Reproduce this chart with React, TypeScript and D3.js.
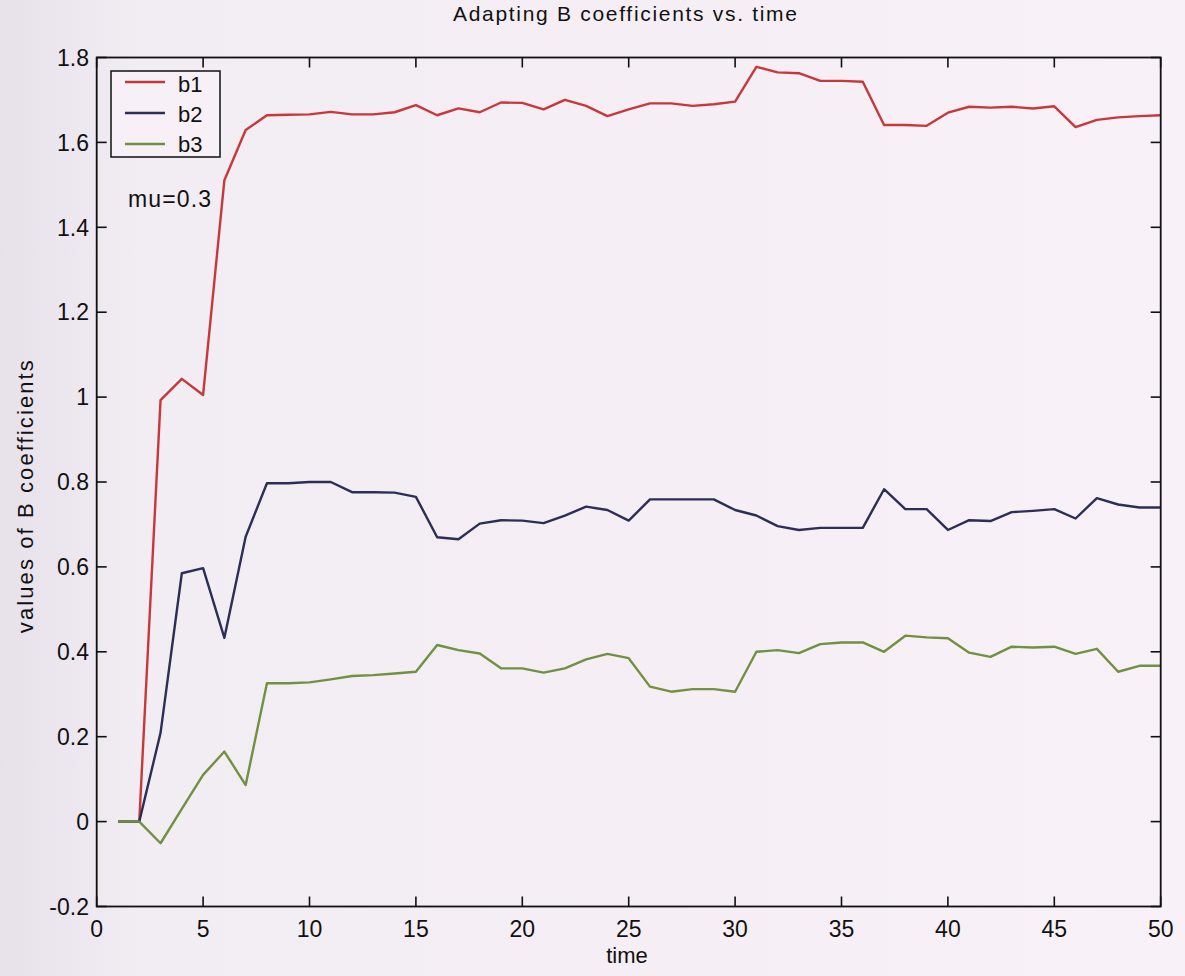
import React from "react";
import * as d3 from "d3";

// Adaptive filter coefficient traces, one sample per time step
const time: number[] = d3.range(1, 51);

const b1: number[] = [
  0, 0, 0.993, 1.043, 1.005, 1.511, 1.629, 1.664, 1.665, 1.666,
  1.672, 1.666, 1.666, 1.671, 1.688, 1.664, 1.68, 1.671, 1.694, 1.693,
  1.678, 1.7, 1.686, 1.662, 1.678, 1.692, 1.692, 1.686, 1.69, 1.696,
  1.778, 1.765, 1.763, 1.745, 1.745, 1.743, 1.641, 1.641, 1.639, 1.67,
  1.684, 1.682, 1.684, 1.68, 1.685, 1.636, 1.653, 1.659, 1.662, 1.664,
];

const b2: number[] = [
  0, 0, 0.209, 0.585, 0.597, 0.433, 0.671, 0.797, 0.797, 0.8,
  0.8, 0.776, 0.776, 0.775, 0.765, 0.67, 0.665, 0.702, 0.71, 0.709,
  0.703, 0.721, 0.742, 0.734, 0.709, 0.759, 0.759, 0.759, 0.759, 0.734,
  0.721, 0.696, 0.687, 0.692, 0.692, 0.692, 0.783, 0.736, 0.736, 0.687,
  0.71, 0.708, 0.729, 0.732, 0.736, 0.714, 0.762, 0.747, 0.74, 0.74,
];

const b3: number[] = [
  0, 0, -0.051, 0.03, 0.11, 0.165, 0.086, 0.326, 0.326, 0.328,
  0.335, 0.343, 0.345, 0.349, 0.353, 0.416, 0.404, 0.396, 0.361, 0.361,
  0.351, 0.361, 0.382, 0.395, 0.385, 0.318, 0.306, 0.312, 0.312, 0.306,
  0.4, 0.404, 0.397, 0.418, 0.422, 0.422, 0.4, 0.438, 0.434, 0.432,
  0.398, 0.388, 0.412, 0.41, 0.412, 0.395, 0.407, 0.353, 0.367, 0.367,
];

const seriesNames: string[] = ["b1", "b2", "b3"];
const seriesColors: string[] = ["#c8383a", "#2c2f55", "#6f9140"];

const xTicks: number[] = [0, 5, 10, 15, 20, 25, 30, 35, 40, 45, 50];
const yTicks: number[] = [-0.2, 0, 0.2, 0.4, 0.6, 0.8, 1, 1.2, 1.4, 1.6, 1.8];
const yTickLabels: string[] = ["-0.2", "0", "0.2", "0.4", "0.6", "0.8", "1", "1.2", "1.4", "1.6", "1.8"];

const titleText = "Adapting B coefficients vs. time";
const xLabelText = "time";
const yLabelText = "values of B coefficients";
const noteText = "mu=0.3";

const W = 1185;
const H = 976;
const plot = { left: 96.7, right: 1160.7, top: 57.5, bottom: 906.5 };
const FONT = "'Liberation Sans', Arial, Helvetica, sans-serif";

export default function App() {
  const x = d3.scaleLinear().domain([0, 50]).range([plot.left, plot.right]);
  const y = d3.scaleLinear().domain([-0.2, 1.8]).range([plot.bottom, plot.top]);

  const line = d3
    .line<[number, number]>()
    .x((d) => x(d[0]))
    .y((d) => y(d[1]));

  const series = [b1, b2, b3].map((vals) =>
    vals.map((v, i) => [time[i], v] as [number, number])
  );

  const tickLen = 10;
  const legend = { x: 111, y: 71, w: 109, h: 86 };

  return (
    <svg
      width={W}
      height={H}
      style={{ position: "absolute", left: 0, top: 0, display: "block" }}
      fontFamily={FONT}
    >
      <defs>
        <linearGradient id="paper" x1="0" y1="0" x2="1" y2="0">
          <stop offset="0" stopColor="#e7e1ea" />
          <stop offset="0.12" stopColor="#f2ecf3" />
          <stop offset="1" stopColor="#f8f1f7" />
        </linearGradient>
      </defs>
      <rect x={0} y={0} width={W} height={H} fill="url(#paper)" />

      {/* title */}
      <text
        x={453}
        y={21}
        fontSize={21}
        textLength={344}
        lengthAdjust="spacing"
        fill="#111"
      >
        {titleText}
      </text>

      {/* data lines */}
      {series.map((s, i) => (
        <path
          key={seriesNames[i]}
          d={line(s) || ""}
          fill="none"
          stroke={seriesColors[i]}
          strokeWidth={2.4}
          strokeLinejoin="round"
        />
      ))}

      {/* axes box */}
      <rect
        x={plot.left}
        y={plot.top}
        width={plot.right - plot.left}
        height={plot.bottom - plot.top}
        fill="none"
        stroke="#111"
        strokeWidth={1.8}
      />

      {/* x ticks (bottom and top, pointing inward) */}
      {xTicks.map((t) => (
        <g key={"x" + t}>
          <line x1={x(t)} x2={x(t)} y1={plot.bottom} y2={plot.bottom - tickLen} stroke="#111" strokeWidth={1.6} />
          <line x1={x(t)} x2={x(t)} y1={plot.top} y2={plot.top + tickLen} stroke="#111" strokeWidth={1.6} />
          <text x={x(t)} y={937} fontSize={23} textAnchor="middle" fill="#111">
            {t}
          </text>
        </g>
      ))}

      {/* y ticks (left and right, pointing inward) */}
      {yTicks.map((t, i) => (
        <g key={"y" + t}>
          <line x1={plot.left} x2={plot.left + tickLen} y1={y(t)} y2={y(t)} stroke="#111" strokeWidth={1.6} />
          <line x1={plot.right} x2={plot.right - tickLen} y1={y(t)} y2={y(t)} stroke="#111" strokeWidth={1.6} />
          <text x={89} y={y(t)} dy="0.36em" fontSize={23} textAnchor="end" fill="#111">
            {yTickLabels[i]}
          </text>
        </g>
      ))}

      {/* axis labels */}
      <text x={627} y={963} fontSize={22} textAnchor="middle" fill="#111">
        {xLabelText}
      </text>
      <text
        transform={`translate(33, ${496.7 + 136.5}) rotate(-90)`}
        fontSize={22}
        textLength={273}
        lengthAdjust="spacing"
        fill="#111"
      >
        {yLabelText}
      </text>

      {/* legend */}
      <rect
        x={legend.x}
        y={legend.y}
        width={legend.w}
        height={legend.h}
        fill="#f7f0f6"
        stroke="#111"
        strokeWidth={1.5}
      />
      {seriesNames.map((name, i) => (
        <g key={"leg" + name}>
          <line
            x1={125}
            x2={165}
            y1={82 + i * 31}
            y2={82 + i * 31}
            stroke={seriesColors[i]}
            strokeWidth={2.4}
          />
          <text x={178} y={91.7 + i * 30} fontSize={22} fill="#111">
            {name}
          </text>
        </g>
      ))}

      {/* annotation */}
      <text x={128} y={207} fontSize={23} textLength={83} lengthAdjust="spacing" fill="#111">
        {noteText}
      </text>
    </svg>
  );
}
